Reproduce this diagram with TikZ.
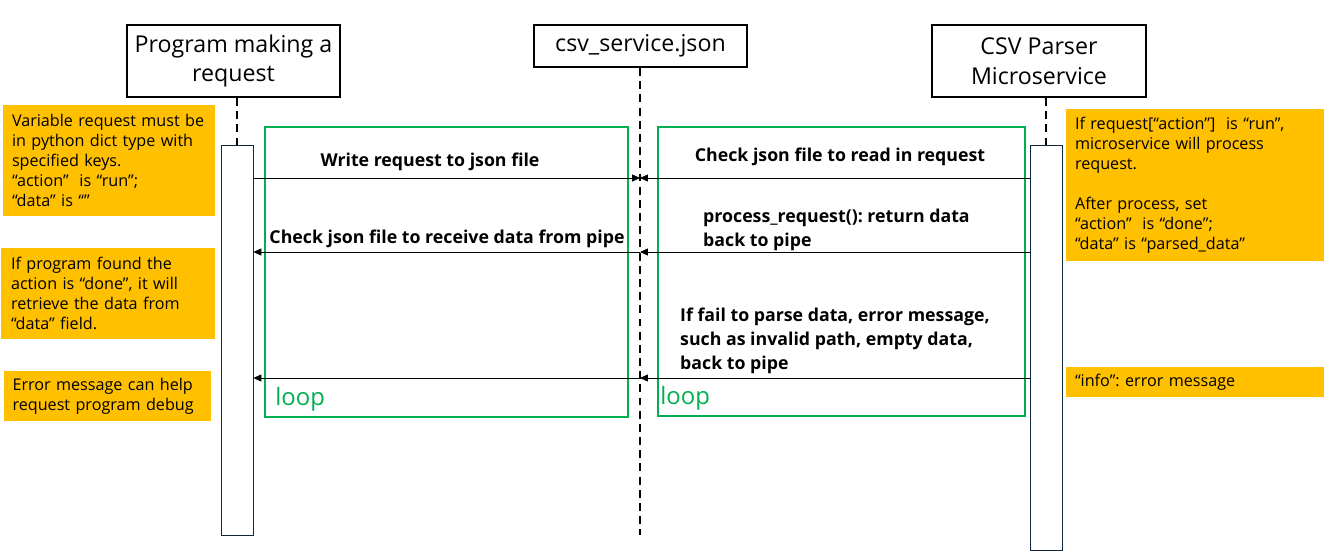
\documentclass[tikz,border=0pt]{standalone}
\usepackage{fontspec}
\setmainfont{Open Sans}
\frenchspacing
\usetikzlibrary{arrows.meta}
\definecolor{notefill}{HTML}{FFC000}
\definecolor{loopgreen}{HTML}{00B050}
\definecolor{actline}{HTML}{0E2841}
\begin{document}
\begin{tikzpicture}[x=0.02cm,y=-0.02cm,
  head/.style={draw,line width=1.3pt,align=center,minimum width=4.26cm,
    font=\fontsize{13.2}{17}\selectfont},
  act/.style={draw=actline,fill=white,line width=0.5pt,minimum width=0.64cm},
  life/.style={line width=1.1pt,dash pattern=on 4.5pt off 3pt},
  frame/.style={draw=loopgreen,line width=1.1pt},
  note/.style={fill=notefill,align=left,inner xsep=0.18cm,
    font=\fontsize{9.2}{11.4}\selectfont},
  msg/.style={-{Triangle[length=4.5pt,width=4pt]},line width=0.5pt},
  lbl/.style={font=\bfseries\fontsize{10.1}{13.7}\selectfont,align=left},
  looplbl/.style={text=loopgreen,font=\fontsize{13.6}{14}\selectfont,anchor=west,inner sep=0pt}]
\useasboundingbox (0,0) rectangle (1336,558);
% participants
\node (prog) [head,minimum height=1.44cm] at (233.5,61) {Program making a\\request};
\node (json) [head,minimum height=0.84cm] at (640.5,46) {csv\_service.json};
\node (parser) [head,minimum height=1.44cm,minimum width=4.28cm] at (1039,61) {CSV Parser\\Microservice};
% activations
\node (actA) [act,minimum height=7.8cm] at (237,340) {};
\node (actC) [act,minimum height=8.1cm] at (1046,347.5) {};
\draw [life] (prog.south -| actA) -- (actA.north);
\draw [life] (parser.south -| actC) -- (actC.north);
\coordinate (jsonEnd) at (640,535);
\draw [life] (json.south -| jsonEnd) -- (jsonEnd);
% loops
\node (loopA) [frame,minimum width=7.26cm,minimum height=5.8cm] at (446.5,272) {};
\node (loopC) [frame,minimum width=7.34cm,minimum height=5.78cm] at (841.5,271.5) {};
\node [looplbl] at (275,399) {loop};
\node [looplbl] at (660,398) {loop};
% messages
\coordinate (m1) at (640,178);
\coordinate (m2) at (640,252);
\coordinate (m3) at (640,378);
\draw [msg] (actA.east |- m1) -- (m1);
\draw [msg] (actC.west |- m1) -- (m1);
\draw [msg] (actC.west |- m2) -- (m2);
\draw [msg] (m2) -- (actA.east |- m2);
\draw [msg] (actC.west |- m3) -- (m3);
\draw [msg] (m3) -- (actA.east |- m3);
\node (l1) [lbl] at (430,162) {Write request to json file};
\node (l2) [lbl] at (840,157) {Check json file to read in request};
\node (l3) [lbl,anchor=west] at (697,230) {process\_request(): return data\\back to pipe};
\node (l4) [lbl] at (447,239) {Check json file to receive data from pipe};
\node (l5) [lbl,anchor=west] at (674,341) {If fail to parse data, error message,\\such as invalid path, empty data,\\back to pipe};
% notes
\node (n1) [note,minimum width=4.24cm,minimum height=2.22cm,text width=3.88cm] at (109,160.5)
  {Variable request must be\\in python dict type with\\specified keys.\\“action”\ \ is “run”;\\“data” is “”};
\node (n2) [note,minimum width=4.28cm,minimum height=1.82cm,text width=3.88cm] at (108,293.5)
  {If program found the\\action is “done”, it will\\retrieve the data from\\“data” field.};
\node (n3) [note,minimum width=4.14cm,minimum height=1.0cm,text width=3.8cm] at (107.5,396)
  {Error message can help\\request program debug};
\node (n4) [note,minimum width=5.16cm,minimum height=3.04cm,text width=4.8cm] at (1195,185)
  {If request[“action”]\ \ is “run”,\\microservice will process\\request.\\[11.4pt]After process, set\\ “action”\ \ is “done”;\\“data” is “parsed\_data”};
\node (n5) [note,minimum width=5.16cm,minimum height=0.6cm,text width=4.8cm] at (1195,382)
  {“info”: error message};
\end{tikzpicture}
\end{document}
